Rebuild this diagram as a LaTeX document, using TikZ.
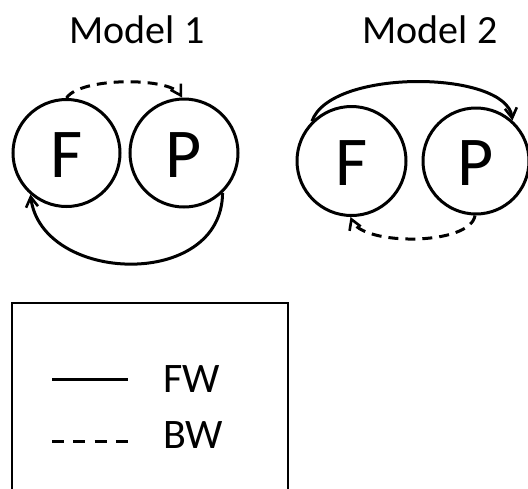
\documentclass[tikz,border=0pt]{standalone}
\usepackage{fontspec}
\setmainfont{Carlito}
\usetikzlibrary{arrows.meta}
\begin{document}
\begin{tikzpicture}[x=1pt,y=-1pt,
  ring/.style={draw,circle,line width=3pt,inner sep=0pt},
  letter/.style={anchor=base,inner sep=0pt,font=\fontsize{70}{80}\selectfont},
  title/.style={anchor=base,inner sep=0pt,font=\fontsize{40}{48}\selectfont},
  legtext/.style={anchor=base west,inner sep=0pt,font=\fontsize{42}{50}\selectfont},
  fwline/.style={line width=3pt},
  bwline/.style={line width=3pt,dash pattern=on 10pt off 7pt},
  tip/.style={-{Straight Barb[length=10pt,width=12pt,line width=2.6pt]}}]
\clip (0,0) rectangle (528,488);
\useasboundingbox (0,0) rectangle (528,488);

% Model 1
\node[title] (t1) at (137,43) {Model 1};
\node[ring,minimum size=107pt] (f1) at (66.5,153) {};
\node[ring,minimum size=108pt] (p1) at (184,153) {};
\node[letter] (lf1) at (66.5,177) {F};
\node[letter] (lp1) at (184,177) {P};
\draw[bwline,tip] (f1.90) .. controls (80,77) and (170,77) .. (p1.92);
\draw[fwline,tip] (p1.-46) .. controls (222,290) and (42,284) .. (f1.-131);

% Model 2
\node[title] (t2) at (430,43) {Model 2};
\node[ring,minimum size=109pt] (f2) at (351.5,161) {};
\node[ring,minimum size=106pt] (p2) at (476,161) {};
\node[letter] (lf2) at (351.5,185) {F};
\node[letter] (lp2) at (476,185) {P};
\draw[fwline,tip] (f2.135) .. controls (330,68) and (506,70) .. (p2.48);
\draw[bwline,tip] (p2.-91) .. controls (470,246) and (362,246) .. (f2.-91);

% Legend
\draw[line width=2pt] (12,303) rectangle (288,500);
\coordinate (a1) at (52,379);
\coordinate (a2) at (128,379);
\coordinate (b1) at (52,441);
\coordinate (b2) at (128,441);
\draw[fwline] (a1) -- (a2);
\draw[line width=3pt,dash pattern=on 12pt off 9.3pt] (b1) -- (b2);
\node[legtext] (fw) at (163,392) {FW};
\node[legtext] (bw) at (163,448) {BW};
\end{tikzpicture}
\end{document}
